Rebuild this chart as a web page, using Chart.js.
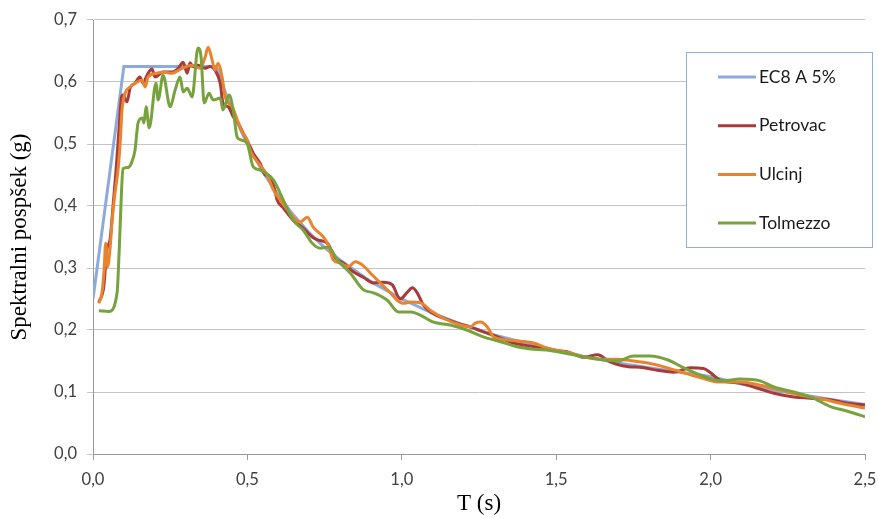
<!DOCTYPE html>
<html>
<head>
<meta charset="utf-8">
<script src="https://cdn.jsdelivr.net/npm/chart.js@4.4.0/dist/chart.umd.min.js"></script>
<style>
  html, body { margin: 0; padding: 0; background: #fff; }
  #wrap { width: 878px; height: 518px; }
</style>
</head>
<body>
<div id="wrap"><canvas id="spectrum_chart" width="878" height="518"></canvas></div>
<script>
// tick labels (decimal comma, as in the original)
const xTickLabels = ["0,0", "0,5", "1,0", "1,5", "2,0", "2,5"];
const yTickLabels = ["0,0", "0,1", "0,2", "0,3", "0,4", "0,5", "0,6", "0,7"];

const seriesNames = ["EC8 A 5%", "Petrovac", "Ulcinj", "Tolmezzo"];

// EC8 A 5% design spectrum
const ec8T  = [0, 0.1, 0.4, 0.425, 0.45, 0.475, 0.5, 0.55, 0.6, 0.65, 0.7, 0.75, 0.8, 0.9, 1.0, 1.1, 1.2, 1.3, 1.4, 1.5, 1.6, 1.7, 1.8, 1.9, 2.0, 2.1, 2.2, 2.3, 2.4, 2.5];
const ec8Sa = [0.25, 0.625, 0.625, 0.588, 0.556, 0.526, 0.5, 0.455, 0.417, 0.385, 0.357, 0.333, 0.313, 0.278, 0.25, 0.227, 0.208, 0.192, 0.179, 0.167, 0.156, 0.147, 0.139, 0.132, 0.125, 0.113, 0.103, 0.095, 0.087, 0.08];

// Petrovac
const petT  = [0.019, 0.035, 0.045, 0.055, 0.065, 0.075, 0.085, 0.092, 0.097, 0.11, 0.12, 0.136, 0.152, 0.162, 0.175, 0.191, 0.201, 0.227, 0.256, 0.276, 0.292, 0.305, 0.314, 0.324, 0.34, 0.363, 0.379, 0.395, 0.412, 0.421, 0.438, 0.454, 0.47, 0.486, 0.502, 0.519, 0.541, 0.558, 0.574, 0.59, 0.596, 0.616, 0.648, 0.677, 0.71, 0.73, 0.759, 0.785, 0.81, 0.843, 0.875, 0.908, 0.94, 0.969, 0.995, 1.018, 1.034, 1.05, 1.07, 1.1, 1.135, 1.18, 1.222, 1.264, 1.31, 1.362, 1.427, 1.47, 1.514, 1.535, 1.59, 1.634, 1.676, 1.718, 1.783, 1.828, 1.88, 1.935, 1.977, 2.0, 2.03, 2.097, 2.152, 2.205, 2.27, 2.324, 2.39, 2.444, 2.5];
const petSa = [0.245, 0.27, 0.33, 0.345, 0.4, 0.46, 0.53, 0.575, 0.579, 0.568, 0.59, 0.598, 0.608, 0.598, 0.611, 0.621, 0.608, 0.616, 0.616, 0.622, 0.632, 0.614, 0.631, 0.625, 0.627, 0.622, 0.625, 0.619, 0.598, 0.566, 0.56, 0.544, 0.534, 0.518, 0.503, 0.485, 0.469, 0.45, 0.447, 0.423, 0.41, 0.397, 0.377, 0.366, 0.35, 0.345, 0.34, 0.316, 0.308, 0.294, 0.285, 0.276, 0.277, 0.273, 0.25, 0.261, 0.268, 0.26, 0.24, 0.227, 0.219, 0.211, 0.205, 0.197, 0.189, 0.179, 0.173, 0.169, 0.166, 0.165, 0.156, 0.16, 0.148, 0.142, 0.139, 0.135, 0.132, 0.139, 0.138, 0.131, 0.119, 0.114, 0.106, 0.098, 0.092, 0.09, 0.087, 0.082, 0.079];

// Ulcinj
const ulcT  = [0.019, 0.029, 0.036, 0.041, 0.047, 0.055, 0.062, 0.071, 0.081, 0.088, 0.094, 0.104, 0.12, 0.136, 0.159, 0.169, 0.178, 0.207, 0.227, 0.256, 0.288, 0.321, 0.347, 0.363, 0.373, 0.386, 0.395, 0.405, 0.418, 0.428, 0.451, 0.467, 0.483, 0.502, 0.509, 0.541, 0.564, 0.584, 0.606, 0.629, 0.648, 0.671, 0.694, 0.713, 0.746, 0.762, 0.778, 0.8, 0.827, 0.849, 0.872, 0.898, 0.93, 0.963, 0.985, 1.005, 1.027, 1.06, 1.092, 1.135, 1.19, 1.222, 1.238, 1.254, 1.277, 1.297, 1.342, 1.384, 1.427, 1.47, 1.514, 1.546, 1.589, 1.643, 1.698, 1.75, 1.805, 1.86, 1.913, 1.968, 2.03, 2.097, 2.16, 2.227, 2.29, 2.357, 2.42, 2.5];
const ulcSa = [0.243, 0.26, 0.297, 0.34, 0.302, 0.33, 0.377, 0.42, 0.458, 0.502, 0.555, 0.582, 0.592, 0.598, 0.603, 0.592, 0.608, 0.614, 0.616, 0.614, 0.622, 0.627, 0.622, 0.64, 0.656, 0.635, 0.619, 0.63, 0.608, 0.576, 0.56, 0.539, 0.52, 0.503, 0.49, 0.466, 0.45, 0.426, 0.41, 0.394, 0.382, 0.374, 0.382, 0.366, 0.35, 0.337, 0.313, 0.308, 0.302, 0.31, 0.305, 0.292, 0.276, 0.26, 0.248, 0.243, 0.245, 0.244, 0.232, 0.219, 0.208, 0.205, 0.211, 0.213, 0.205, 0.189, 0.184, 0.182, 0.179, 0.171, 0.166, 0.163, 0.157, 0.153, 0.153, 0.15, 0.146, 0.139, 0.131, 0.123, 0.116, 0.116, 0.111, 0.103, 0.095, 0.089, 0.082, 0.074];

// Tolmezzo
const tolT  = [0.019, 0.052, 0.078, 0.085, 0.092, 0.097, 0.113, 0.125, 0.136, 0.146, 0.159, 0.165, 0.172, 0.182, 0.204, 0.211, 0.227, 0.25, 0.266, 0.282, 0.292, 0.305, 0.321, 0.34, 0.35, 0.36, 0.376, 0.389, 0.412, 0.421, 0.441, 0.454, 0.467, 0.483, 0.5, 0.519, 0.541, 0.584, 0.616, 0.648, 0.681, 0.71, 0.736, 0.762, 0.791, 0.833, 0.875, 0.908, 0.953, 0.989, 1.03, 1.06, 1.1, 1.157, 1.21, 1.264, 1.32, 1.374, 1.427, 1.48, 1.514, 1.589, 1.698, 1.75, 1.805, 1.86, 1.913, 1.968, 2.035, 2.097, 2.16, 2.205, 2.27, 2.324, 2.39, 2.444, 2.5];
const tolSa = [0.231, 0.23, 0.26, 0.33, 0.42, 0.46, 0.462, 0.47, 0.49, 0.534, 0.542, 0.534, 0.56, 0.526, 0.598, 0.571, 0.611, 0.56, 0.587, 0.608, 0.584, 0.59, 0.576, 0.655, 0.64, 0.566, 0.582, 0.571, 0.574, 0.555, 0.579, 0.555, 0.511, 0.506, 0.5, 0.463, 0.458, 0.442, 0.41, 0.377, 0.361, 0.34, 0.332, 0.334, 0.313, 0.292, 0.265, 0.26, 0.248, 0.229, 0.229, 0.224, 0.213, 0.208, 0.2, 0.189, 0.181, 0.173, 0.169, 0.167, 0.164, 0.157, 0.15, 0.158, 0.158, 0.152, 0.139, 0.127, 0.118, 0.121, 0.118, 0.108, 0.1, 0.092, 0.076, 0.069, 0.06];

const colors = ["#8eaadb", "#a83a3a", "#e8842f", "#77a23d"];

const TICK_FONT = { family: "Lato", size: 16.5 };
const TITLE_FONT = { family: "Liberation Serif", size: 23 };

function points(xs, ys) {
  return xs.map((x, i) => ({ x, y: ys[i] }));
}

// legend in a framed box, like the Excel original
const boxLegend = {
  id: "boxLegend",
  afterDatasetsDraw(chart) {
    const ctx = chart.ctx;
    const x0 = 686, y0 = 52, w = 186, h = 195;
    ctx.save();
    ctx.fillStyle = "#fff";
    ctx.fillRect(x0, y0, w, h);
    ctx.strokeStyle = "#8eb0d8";
    ctx.lineWidth = 1;
    ctx.strokeRect(x0 + 0.5, y0 + 0.5, w, h);
    ctx.font = "17.5px Lato";
    ctx.textBaseline = "middle";
    ctx.fillStyle = "#1a1a1a";
    chart.data.datasets.forEach((ds, i) => {
      const y = 77 + i * 48.7;
      ctx.strokeStyle = ds.borderColor;
      ctx.lineWidth = 3;
      ctx.beginPath();
      ctx.moveTo(718, y);
      ctx.lineTo(756, y);
      ctx.stroke();
      ctx.fillText(ds.label, 759, y);
    });
    ctx.restore();
  }
};

const series = [
  [ec8T, ec8Sa],
  [petT, petSa],
  [ulcT, ulcSa],
  [tolT, tolSa],
];

new Chart(document.getElementById("spectrum_chart"), {
  type: "line",
  data: {
    datasets: series.map((s, i) => ({
      label: seriesNames[i],
      data: points(s[0], s[1]),
      borderColor: colors[i],
      borderWidth: 3,
      pointRadius: 0,
      // design spectrum has sharp corners, the records are smoothed like Excel
      cubicInterpolationMode: i === 0 ? "default" : "monotone",
      tension: 0,
      fill: false,
      order: 3 - i,
    })),
  },
  options: {
    responsive: false,
    animation: false,
    layout: { padding: { left: 6, right: 0, top: 20, bottom: 0 } },
    plugins: { legend: { display: false }, tooltip: { enabled: false } },
    scales: {
      x: {
        type: "linear",
        min: 0,
        max: 2.5,
        afterFit: s => { s.height = 64; s.paddingRight = 13; s.paddingLeft = 0; },
        afterBuildTicks: s => { s.ticks = xTickLabels.map((_, i) => ({ value: i * 0.5 })); },
        ticks: {
          callback: (v, i) => xTickLabels[i],
          font: TICK_FONT,
          color: "#404040",
          padding: 10,
          maxRotation: 0,
        },
        grid: { drawOnChartArea: false, drawTicks: true, tickLength: 6, color: "#9a9a9a" },
        border: { color: "#9a9a9a" },
        title: { display: true, text: "T (s)", font: TITLE_FONT, color: "#000", padding: { top: 0, bottom: 0 } },
      },
      y: {
        min: 0,
        max: 0.7,
        afterFit: s => { s.width = 87; },
        afterBuildTicks: s => { s.ticks = yTickLabels.map((_, i) => ({ value: i * 0.1 })); },
        ticks: {
          callback: (v, i) => yTickLabels[i],
          font: TICK_FONT,
          color: "#404040",
          padding: 10,
        },
        grid: { color: "#c4c4c4", tickLength: 6 },
        border: { color: "#9a9a9a" },
        title: { display: true, text: "Spektralni pospšek (g)", font: TITLE_FONT, color: "#000", padding: { top: 0, bottom: 2 } },
      },
    },
  },
  plugins: [boxLegend],
});
</script>
</body>
</html>
